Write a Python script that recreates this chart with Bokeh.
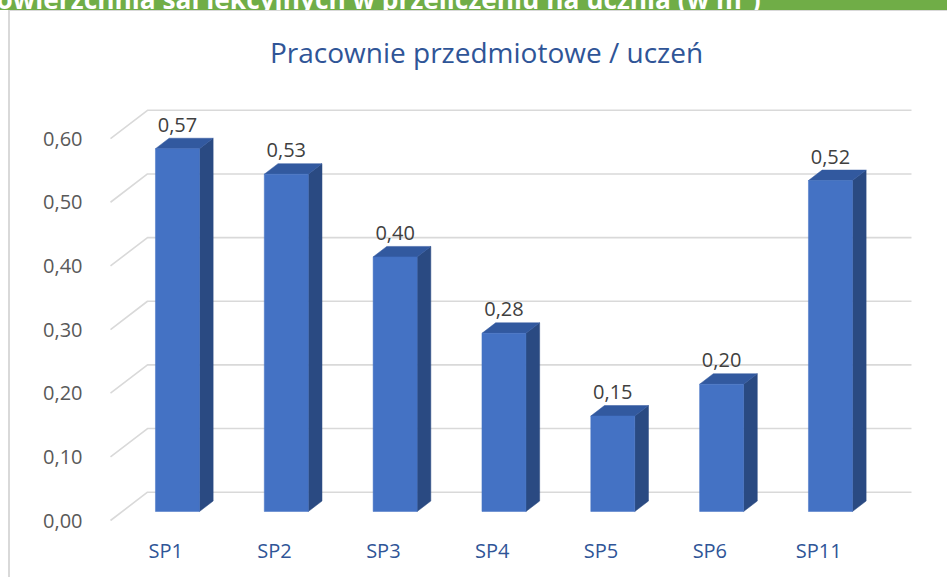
from bokeh.plotting import figure
from bokeh.models import Range1d, FixedTicker, Label, Div, ColumnDataSource, CustomJSTickFormatter
from bokeh.layouts import column, row
from bokeh.embed import file_html
from bokeh.resources import INLINE
from bokeh.core.properties import value

# ---------------- data ----------------
categories = ["SP1", "SP2", "SP3", "SP4", "SP5", "SP6", "SP11"]
values = [0.57, 0.53, 0.40, 0.28, 0.15, 0.20, 0.52]
value_labels = ["0,57", "0,53", "0,40", "0,28", "0,15", "0,20", "0,52"]
y_ticks = [0.0, 0.1, 0.2, 0.3, 0.4, 0.5, 0.6]
y_tick_labels = ["0,00", "0,10", "0,20", "0,30", "0,40", "0,50", "0,60"]
title_text = "Pracownie przedmiotowe / uczeń"
banner_text = "Powierzchnia sal lekcyjnych w przeliczeniu na ucznia (w m²)"

# ---------------- geometry (pixel -> data helpers) ----------------
PXX = 1 / 108.83   # data units per px (x)
PXY = 1 / 636.5    # data units per px (y)
DEPTH_X, DEPTH_Y = 37 * PXX, 28.3 * PXY          # full floor depth
BAR_OFF_X, BAR_OFF_Y = 0.318 * DEPTH_X, 0.318 * DEPTH_Y
BAR_DX, BAR_DY = 0.37 * DEPTH_X, 0.37 * DEPTH_Y
HALF_W = 22 * PXX
GRID_X0 = -55.2 * PXX
GRID_X1 = 745.8 * PXX

FONT = "Open Sans"

p = figure(width=937, height=566, output_backend="svg", toolbar_location=None,
           x_range=Range1d(-0.5991, 7.1837), y_range=Range1d(-0.015711, 0.79969),
           min_border_left=90, min_border_right=0, min_border_top=0, min_border_bottom=47,
           margin=0)
p.outline_line_color = None
p.grid.visible = False
p.background_fill_color = "white"
p.border_fill_color = "white"

# back-wall gridlines with floor diagonals
gxs, gys = [], []
for t in y_ticks:
    gxs.append([GRID_X0, GRID_X0 + DEPTH_X, GRID_X1])
    gys.append([t, t + DEPTH_Y, t + DEPTH_Y])
p.multi_line(xs=gxs, ys=gys, line_color="#D9D9D9", line_width=1.6)

# bars
idx = list(range(len(categories)))
left = [i + BAR_OFF_X - HALF_W for i in idx]
right = [i + BAR_OFF_X + HALF_W for i in idx]
bottom = [BAR_OFF_Y for _ in idx]
top = [v + BAR_OFF_Y for v in values]

side_xs, side_ys, top_xs, top_ys = [], [], [], []
for l, r, b, t in zip(left, right, bottom, top):
    side_xs.append([r, r + BAR_DX, r + BAR_DX, r])
    side_ys.append([b, b + BAR_DY, t + BAR_DY, t])
    top_xs.append([l, r, r + BAR_DX, l + BAR_DX])
    top_ys.append([t, t, t + BAR_DY, t + BAR_DY])

p.patches(xs=side_xs, ys=side_ys, fill_color="#2A4A82", line_color="#2A4A82", line_width=0.5)
p.patches(xs=top_xs, ys=top_ys, fill_color="#32599F", line_color="#32599F", line_width=0.5)
p.quad(left=left, right=right, bottom=bottom, top=top, fill_color="#4472C4", line_color="#4472C4", line_width=0.5)

# value labels
lab_src = ColumnDataSource(dict(x=[i + BAR_OFF_X for i in idx], y=top, text=value_labels))
p.text(x="x", y="y", text="text", source=lab_src, text_align="center", text_baseline="alphabetic",
       y_offset=-24, text_font=value(FONT), text_font_size="20px", text_color="#404040")

# title
p.add_layout(Label(x=2.948, y=0.7368, text=title_text, text_align="center", text_baseline="alphabetic",
                   text_font=FONT, text_font_size="28px", text_color="#2F5597"))

# axes
p.xaxis.ticker = FixedTicker(ticks=idx)
p.xaxis.formatter = CustomJSTickFormatter(args=dict(cat_labels=categories),
                                          code="return cat_labels[Math.round(tick)] || '';")
p.xaxis.axis_line_color = None
p.xaxis.major_tick_line_color = None
p.xaxis.minor_tick_line_color = None
p.xaxis.major_label_standoff = 0
p.xaxis.major_label_text_font = FONT
p.xaxis.major_label_text_font_size = "20px"
p.xaxis.major_label_text_color = "#2F5597"

p.yaxis.ticker = FixedTicker(ticks=y_ticks)
p.yaxis.formatter = CustomJSTickFormatter(args=dict(tick_vals=y_ticks, tick_texts=y_tick_labels),
    code="const k = tick_vals.findIndex(t => Math.abs(t - tick) < 1e-9); return k >= 0 ? tick_texts[k] : '';")
p.yaxis.axis_line_color = None
p.yaxis.major_tick_line_color = None
p.yaxis.minor_tick_line_color = None
p.yaxis.major_label_standoff = 12
p.yaxis.major_label_text_font = FONT
p.yaxis.major_label_text_font_size = "20px"
p.yaxis.major_label_text_color = "#595959"

# frame / banner
banner = Div(text=('<div style="position:relative; left:-20px; top:-14.5px; font-family:\'Open Sans\'; '
                   'font-weight:bold; font-size:26.3px; line-height:26.3px; color:white; white-space:nowrap;">'
                   + banner_text + '</div>'),
             width=947, height=10, margin=0,
             styles={"background-color": "#70AD47", "overflow": "hidden"})
spacer = Div(text="", width=8, height=567, margin=0)
top_line = Div(text="", width=939, height=1, margin=0, styles={"background-color": "#D9D9D9"})
left_line = Div(text="", width=2, height=566, margin=0, styles={"background-color": "#D9D9D9"})

root = column(banner, row(spacer, column(top_line, row(left_line, p, margin=0), margin=0), margin=0),
              margin=0)

open("out.html", "w").write(file_html(root, INLINE))
